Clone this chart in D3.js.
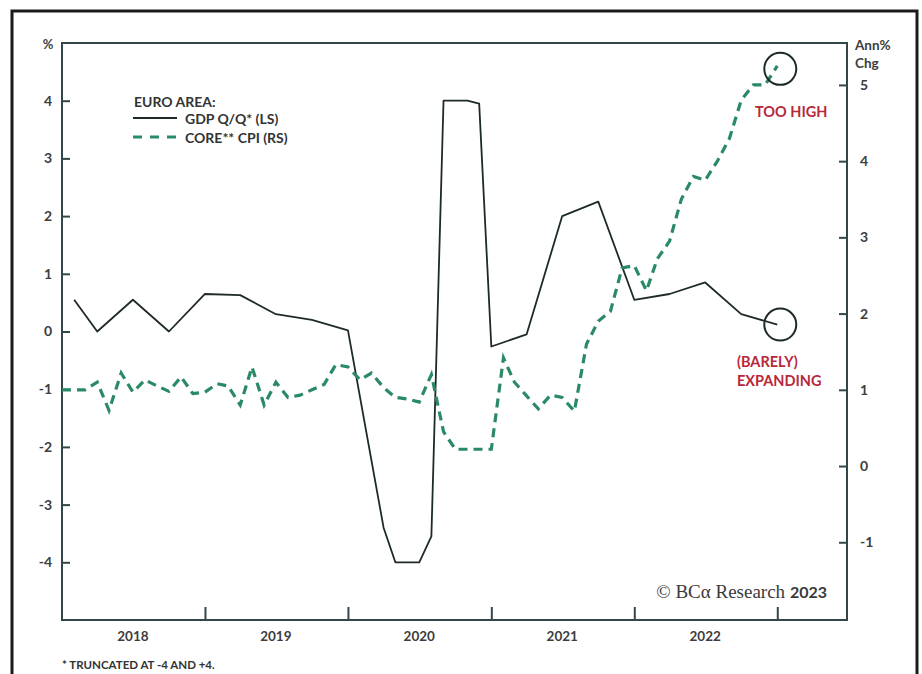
<!DOCTYPE html>
<html>
<head>
<meta charset="utf-8">
<script src="https://cdn.jsdelivr.net/npm/d3@7"></script>
<style>
  body { margin: 0; background: #fff; }
  svg { display: block; }
  text { font-family: Lato, "Open Sans", sans-serif; }
</style>
</head>
<body>
<svg id="drawing_region"></svg>
<script>
// GDP q/q (%), vertices, truncated at -4 / +4
const gdpDates = ['2018-02-01','2018-04-01','2018-07-01','2018-10-01','2019-01-01','2019-04-01',
    '2019-07-01','2019-10-01','2020-01-01','2020-04-01','2020-05-01','2020-07-01','2020-08-01',
    '2020-09-01','2020-11-01','2020-12-01','2021-01-01','2021-04-01','2021-07-01','2021-10-01',
    '2022-01-01','2022-04-01','2022-07-01','2022-10-01','2023-01-01'];
const gdpValues = [0.55, 0.0, 0.55, 0.0, 0.65, 0.63, 0.3, 0.2, 0.02, -3.4, -4, -4, -3.55,
    4, 4, 3.95, -0.26, -0.05, 2.0, 2.25, 0.55, 0.65, 0.85, 0.3, 0.12];

// core CPI (ann % chg), monthly, first value plotted at 2018-01-01 (Dec 2017 reading)
const cpiStart = '2018-01-01';
const cpiValues = [1.0, 1.0, 1.0, 1.1, 0.73, 1.22, 0.97, 1.13, 1.05, 0.98, 1.17, 0.95,
    0.97, 1.08, 1.05, 0.8, 1.3, 0.8, 1.1, 0.9, 0.93, 1.0, 1.07, 1.33,
    1.3, 1.13, 1.22, 1.03, 0.9, 0.88, 0.84, 1.2, 0.45, 0.22, 0.22, 0.22,
    0.22, 1.42, 1.1, 0.92, 0.75, 0.93, 0.9, 0.72, 1.6, 1.9, 2.03, 2.6,
    2.63, 2.3, 2.72, 2.95, 3.5, 3.8, 3.75, 4.0, 4.3, 4.8, 5.0, 5.0, 5.25];

const yearLabels = ['2018','2019','2020','2021','2022'];
const leftTicks = [-4, -3, -2, -1, 0, 1, 2, 3, 4];
const rightTicks = [-1, 0, 1, 2, 3, 4, 5];

const config = {
    width: 922,
    height: 674,
    left: 62, right: 847, top: 43, bottom: 620
};

const parse = d3.timeParse('%Y-%m-%d');
const gdp = gdpDates.map( (d, i) => ({ date: parse(d), value: gdpValues[i] }) );
const cpi = cpiValues.map( (v, i) => ({ date: d3.timeMonth.offset(parse(cpiStart), i), value: v }) );

const svg = d3.select('#drawing_region')
    .attr('width', config.width)
    .attr('height', config.height);

// outer frame
svg.append('rect')
    .attr('x', 12).attr('y', 11)
    .attr('width', 905).attr('height', 720)
    .attr('fill', 'none')
    .attr('stroke', '#1b1b1b')
    .attr('stroke-width', 3);

const xscale = d3.scaleTime()
    .domain([new Date(2018, 0, 1), new Date(2023, 5, 28)])
    .range([config.left, config.right]);

const yleft = d3.scaleLinear()
    .domain([-5, 5])
    .range([config.bottom, config.top]);

const yright = d3.scaleLinear()
    .domain([-2.02, 5.55])
    .range([config.bottom, config.top]);

const axisColor = '#33474b';
const labelColor = '#3d3d3d';

// axes
const yaxisL = d3.axisLeft(yleft)
    .tickValues(leftTicks)
    .tickSize(-8)
    .tickSizeOuter(0)
    .tickPadding(10)
    .tickFormat(d => String(d));

const yaxisR = d3.axisRight(yright)
    .tickValues(rightTicks)
    .tickSize(-8)
    .tickSizeOuter(0)
    .tickPadding(13)
    .tickFormat(d => String(d));

const xaxis = d3.axisBottom(xscale)
    .tickValues(d3.range(2019, 2024).map( y => new Date(y, 0, 1) ))
    .tickSize(-13)
    .tickSizeOuter(0)
    .tickFormat('');

const gL = svg.append('g')
    .attr('transform', `translate(${config.left},0)`)
    .call(yaxisL);
const gR = svg.append('g')
    .attr('transform', `translate(${config.right},0)`)
    .call(yaxisR);
const gX = svg.append('g')
    .attr('transform', `translate(0,${config.bottom})`)
    .call(xaxis);

[gL, gR, gX].forEach( g => {
    g.selectAll('.domain').remove();
    g.selectAll('line').attr('stroke', axisColor).attr('stroke-width', 2);
    g.selectAll('text')
        .attr('fill', labelColor)
        .style('font-family', 'Lato, sans-serif')
        .style('font-size', '14px')
        .style('font-weight', 'bold');
});

// plot box
svg.append('rect')
    .attr('x', config.left).attr('y', config.top)
    .attr('width', config.right - config.left)
    .attr('height', config.bottom - config.top)
    .attr('fill', 'none')
    .attr('stroke', axisColor)
    .attr('stroke-width', 2);

// year labels centred in each year
svg.append('g').selectAll('text')
    .data(yearLabels)
    .enter()
    .append('text')
    .attr('x', d => xscale(new Date(+d, 6, 1)))
    .attr('y', 641)
    .attr('text-anchor', 'middle')
    .attr('fill', labelColor)
    .style('font-size', '13.5px')
    .style('font-weight', 'bold')
    .text(d => d);

// axis titles
svg.append('text').attr('x', 48).attr('y', 49).attr('text-anchor', 'middle')
    .attr('fill', labelColor).style('font-size', '13px').style('font-weight', 'bold').text('%');
svg.append('text').attr('x', 855).attr('y', 50)
    .attr('fill', labelColor).style('font-size', '13.5px').style('font-weight', 'bold').text('Ann%');
svg.append('text').attr('x', 855).attr('y', 68)
    .attr('fill', labelColor).style('font-size', '13.5px').style('font-weight', 'bold').text('Chg');

// lines
const gdpLine = d3.line()
    .x(d => xscale(d.date))
    .y(d => yleft(d.value));

const cpiLine = d3.line()
    .x(d => xscale(d.date))
    .y(d => yright(d.value));

svg.append('path')
    .datum(gdp)
    .attr('d', gdpLine)
    .attr('fill', 'none')
    .attr('stroke', '#1e2a2a')
    .attr('stroke-width', 1.8)
    .attr('stroke-linejoin', 'round');

svg.append('path')
    .datum(cpi)
    .attr('d', cpiLine)
    .attr('fill', 'none')
    .attr('stroke', '#2b8a66')
    .attr('stroke-width', 3.2)
    .attr('stroke-dasharray', '9,6');

// circles round the latest readings
const lastGdp = gdp[gdp.length - 1];
const lastCpi = cpi[cpi.length - 1];
svg.append('circle')
    .attr('cx', xscale(lastCpi.date) + 3)
    .attr('cy', yright(lastCpi.value) + 3)
    .attr('r', 16)
    .attr('fill', 'none').attr('stroke', '#1e2a2a').attr('stroke-width', 2);
svg.append('circle')
    .attr('cx', xscale(lastGdp.date) + 3)
    .attr('cy', yleft(lastGdp.value))
    .attr('r', 16)
    .attr('fill', 'none').attr('stroke', '#1e2a2a').attr('stroke-width', 2);

// annotations
const red = '#b8283b';
svg.append('text').attr('x', 755).attr('y', 117).attr('fill', red)
    .style('font-size', '14.5px').style('font-weight', 'bold').text('TOO HIGH');
svg.append('text').attr('x', 737).attr('y', 367).attr('fill', red)
    .style('font-size', '14.5px').style('font-weight', 'bold').text('(BARELY)');
svg.append('text').attr('x', 737).attr('y', 386).attr('fill', red)
    .style('font-size', '14.5px').style('font-weight', 'bold').text('EXPANDING');

// legend
const legend = svg.append('g');
legend.append('text').attr('x', 134).attr('y', 107).attr('fill', '#333')
    .style('font-size', '14px').style('font-weight', 'bold').text('EURO AREA:');
legend.append('line').attr('x1', 133).attr('x2', 177).attr('y1', 118).attr('y2', 118)
    .attr('stroke', '#1e2a2a').attr('stroke-width', 1.8);
legend.append('text').attr('x', 185).attr('y', 124).attr('fill', '#333')
    .style('font-size', '14px').style('font-weight', 'bold').text('GDP Q/Q* (LS)');
legend.append('line').attr('x1', 133).attr('x2', 177).attr('y1', 137).attr('y2', 137)
    .attr('stroke', '#2b8a66').attr('stroke-width', 3.2).attr('stroke-dasharray', '9,8');
legend.append('text').attr('x', 185).attr('y', 143).attr('fill', '#333')
    .style('font-size', '14px').style('font-weight', 'bold').text('CORE** CPI (RS)');

// copyright
const copy = svg.append('text').attr('x', 827).attr('y', 598).attr('text-anchor', 'end')
    .attr('fill', '#3a3a3a');
copy.append('tspan').style('font-family', '"Liberation Serif", serif').style('font-size', '19px')
    .text('© BCα Research ');
copy.append('tspan').style('font-family', 'Lato, sans-serif').style('font-size', '16px')
    .style('font-weight', 'bold').text('2023');

// footnote
svg.append('text').attr('x', 62).attr('y', 669).attr('fill', '#333')
    .style('font-size', '11.5px').style('font-weight', 'bold').text('*  TRUNCATED AT -4 AND +4.');
</script>
</body>
</html>
